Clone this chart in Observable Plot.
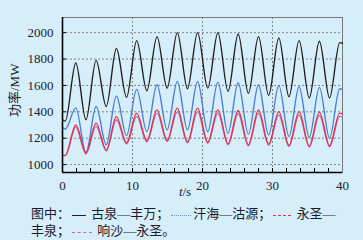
<!DOCTYPE html>
<html><head><meta charset="utf-8">
<script src="https://cdn.jsdelivr.net/npm/d3@7"></script>
<script src="https://cdn.jsdelivr.net/npm/@observablehq/plot@0.6"></script>
<style>
html,body{margin:0;padding:0;background:#d6eef9;}
#chart{width:363px;height:240px;overflow:hidden;}
.legend{font-family:"Liberation Serif","Noto Sans CJK SC",serif;font-size:13px;line-height:17px;color:#1a1a2a;padding-left:31px;white-space:nowrap;}
.first{margin-top:5px;}
.s{display:inline-block;vertical-align:middle;height:0;margin:0 2px;}
</style></head><body><div id="chart"></div>
<script>
// time points of the curve extrema (s)
const times = [0, 0.4, 1.9, 3.35, 4.8, 6.25, 7.7, 9.15, 10.6, 12.05, 13.5, 14.95, 16.4, 17.85, 19.3, 20.75, 22.2, 23.65, 25.1, 26.55, 28.0, 29.45, 30.9, 32.35, 33.8, 35.25, 36.7, 38.15, 39.6, 40];
// power (MW)
const guquanFengwan = [1340, 1330, 1770, 1340, 1790, 1440, 1880, 1510, 1940, 1560, 1970, 1580, 2000, 1575, 2000, 1580, 2000, 1555, 1990, 1540, 1970, 1525, 1960, 1515, 1940, 1505, 1935, 1505, 1925, 1920];
const hanhaiGuyuan = [1280, 1270, 1430, 1090, 1440, 1150, 1520, 1220, 1570, 1250, 1605, 1263, 1630, 1263, 1630, 1250, 1625, 1237, 1620, 1230, 1605, 1225, 1600, 1213, 1590, 1205, 1585, 1200, 1575, 1570];
const yongshengFengquan = [1070, 1070, 1300, 1090, 1314, 1110, 1364, 1165, 1390, 1180, 1415, 1182, 1428, 1172, 1428, 1170, 1415, 1157, 1410, 1150, 1415, 1155, 1402, 1145, 1402, 1140, 1398, 1142, 1390, 1385];
const xiangshaYongsheng = [1070, 1068, 1285, 1080, 1290, 1103, 1340, 1155, 1365, 1172, 1390, 1175, 1400, 1165, 1400, 1162, 1390, 1150, 1385, 1142, 1388, 1147, 1377, 1138, 1377, 1133, 1372, 1135, 1365, 1360];

const seriesNames = ["古泉—丰万", "汗海—沽源", "永圣—丰泉", "响沙—永圣"];
const seriesColors = ["#1e1e1e", "#4a7dd0", "#e5323f", "#b070c0"];
const legendColors = ["#1e1e1e", "#6f93d6", "#e5323f", "#d060c0"];
const legendDash = ["solid", "dotted", "dashed", "dashed"];

const xDomain = [0, 40];
const yDomain = [940, 2115];
const xTicks = [0, 10, 20, 30, 40];
const xGrid = [10, 20, 30];
const xMinor = [2, 4, 6, 8, 10, 12, 14, 16, 18, 20, 22, 24, 26, 28, 30, 32, 34, 36, 38];
const yTicks = [1000, 1200, 1400, 1600, 1800, 2000];

const seriesValues = [guquanFengwan, hanhaiGuyuan, yongshengFengquan, xiangshaYongsheng];
const drawOrder = [0, 1, 3, 2];
const rows = [];
for (const k of drawOrder) times.forEach((t, i) => rows.push({t, v: seriesValues[k][i], s: seriesNames[k]}));

const W = 363, H = 200, mL = 62, mR = 21, mT = 17, mB = 28;
const innerW = W - mL - mR, innerH = H - mT - mB;
const serif = "'Liberation Serif', 'Noto Sans CJK SC', serif";

const plot = Plot.plot({
  width: W, height: H,
  marginLeft: mL, marginRight: mR, marginTop: mT, marginBottom: mB,
  style: {background: "transparent", fontFamily: serif, fontSize: "13px", color: "#1b1b2e"},
  x: {domain: xDomain, label: null},
  y: {domain: yDomain, label: null},
  color: {domain: seriesNames, range: seriesColors},
  marks: [
    Plot.gridX(xGrid, {stroke: "#7a7a7a", strokeOpacity: 0.9, strokeDasharray: "2,2"}),
    Plot.gridY(yTicks, {stroke: "#7a7a7a", strokeOpacity: 0.9, strokeDasharray: "2,2"}),
    Plot.frame({stroke: "#777"}),
    Plot.line(rows, {x: "t", y: "v", z: "s", stroke: "s", curve: "monotone-x", strokeWidth: 1.35}),
    Plot.ruleX([xDomain[0]], {stroke: "#000", strokeWidth: 1.6}),
    Plot.ruleY([yDomain[0]], {stroke: "#000", strokeWidth: 1.6}),
    Plot.tickX(xMinor, {x: d => d, insetTop: innerH - 4, stroke: "#000"}),
    Plot.tickY(yTicks, {y: d => d, insetRight: innerW - 4, stroke: "#000"}),
    Plot.axisX({ticks: xTicks, tickSize: 0, tickPadding: 8, tickFormat: d => String(d), label: null}),
    Plot.axisY({ticks: yTicks, tickSize: 0, tickPadding: 9, tickFormat: d => String(d), label: null}),
    Plot.text(["功率/MW"], {frameAnchor: "left", dx: -48, dy: 22, rotate: -90, fontSize: 13}),
    Plot.text(["t"], {frameAnchor: "bottom", dx: -20, dy: 23, textAnchor: "end", fontStyle: "italic", fontSize: 13}),
    Plot.text(["/s"], {frameAnchor: "bottom", dx: -20, dy: 23, textAnchor: "start", fontSize: 13})
  ]
});
const chart = document.getElementById("chart");
chart.appendChild(plot);

const sample = (k, w) => `<span class="s" style="width:${w}px;border-top:1.4px ${legendDash[k]} ${legendColors[k]}"></span>`;
const l1 = document.createElement("div");
l1.className = "legend first";
l1.innerHTML = `图中：${sample(0, 14)} ${seriesNames[0]}；${sample(1, 20)}${seriesNames[1]}；${sample(2, 18)} ${seriesNames[2].slice(0, 3)}`;
const l2 = document.createElement("div");
l2.className = "legend";
l2.innerHTML = `${seriesNames[2].slice(3)}；${sample(3, 20)} ${seriesNames[3]}。`;
chart.appendChild(l1);
chart.appendChild(l2);
</script>
</body></html>
